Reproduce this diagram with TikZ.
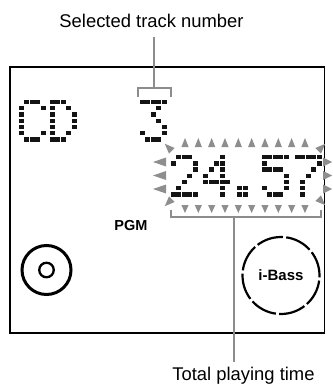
\documentclass[tikz,border=0pt]{standalone}
\usepackage{fontspec}
\setmainfont{Liberation Sans}
\definecolor{leadgray}{HTML}{8C8C8C}
\definecolor{trigray}{HTML}{8E8E8E}
\newcommand{\lcdchar}[3]{\foreach \c/\r in {#3} {\fill[lcd] ({#1+\c*5.5-0.1},{#2+\r*6.2-0.1}) rectangle ++(4.9,4.4);}}
\begin{document}
\begin{tikzpicture}[x=1pt,y=-1pt,
  lcd/.style={fill=black!92},
  tri/.style={fill=trigray},
  leader/.style={draw=leadgray,line width=2.4pt},
  label/.style={font=\fontsize{18.4}{20}\selectfont,anchor=base,inner sep=0pt},
  boldlab/.style={font=\bfseries\fontsize{14.5}{16}\selectfont,inner sep=0pt},
  frame/.style={draw=black,line width=1.2pt}]
\useasboundingbox (0,0) rectangle (332,385);
% frame
\draw[frame] (10,67) rectangle (324.5,333);
% labels
\node[label] (sel) at (151.5,28) {Selected track number};
\node[label] (tot) at (243.5,380) {Total playing time};
\node[boldlab,anchor=base] (pgm) at (131,230.5) {PGM};
% dot matrix characters
\lcdchar{19}{100}{1/0,2/0,3/0,0/1,4/1,0/2,0/3,0/4,0/5,4/5,1/6,2/6,3/6}
\lcdchar{50}{100}{0/0,1/0,2/0,0/1,3/1,0/2,4/2,0/3,4/3,0/4,4/4,0/5,3/5,0/6,1/6,2/6}
\lcdchar{140}{100}{0/0,1/0,2/0,3/0,4/0,3/1,2/2,3/3,4/4,0/5,4/5,1/6,2/6,3/6}
\lcdchar{171}{155}{1/0,2/0,3/0,0/1,4/1,4/2,3/3,2/4,1/5,0/6,1/6,2/6,3/6,4/6}
\lcdchar{203.5}{155}{3/0,2/1,3/1,1/2,3/2,0/3,3/3,0/4,1/4,2/4,3/4,4/4,3/5,3/6}
\lcdchar{237.5}{155}{0/5,1/5,0/6,1/6}
\lcdchar{262}{155}{0/0,1/0,2/0,3/0,4/0,0/1,0/2,1/2,2/2,3/2,4/3,4/4,0/5,4/5,1/6,2/6,3/6}
\lcdchar{295}{155}{0/0,1/0,2/0,3/0,4/0,4/1,3/2,2/3,1/4,1/5,1/6}
% triangles top / bottom
\foreach \i in {0,...,9} {
  \fill[tri] ({185+13.33*\i},138) -- ({188.6+13.33*\i},147) -- ({181.4+13.33*\i},147) -- cycle;
  \fill[tri] ({185+13.33*\i},213) -- ({188.6+13.33*\i},205) -- ({181.4+13.33*\i},205) -- cycle;
}
% side triangles
\foreach \y in {162,175.5,189} {
  \fill[tri] (153,\y) -- (166,{\y-4.5}) -- (166,{\y+4.5}) -- cycle;
  \fill[tri] (332,\y) -- (323,{\y-4.5}) -- (323,{\y+4.5}) -- cycle;
}
% corner triangles
\fill[tri] (164.8,143.8) -- (174.6,148) -- (169,153.6) -- cycle;
\fill[tri] (325.2,143.8) -- (321,153.6) -- (315.4,148) -- cycle;
\fill[tri] (164.8,206.2) -- (174.6,202) -- (169,196.4) -- cycle;
\fill[tri] (325.2,205.2) -- (321,195.4) -- (315.4,201) -- cycle;
% leaders
\coordinate (tl) at (154,37);
\coordinate (tb) at (154,88);
\coordinate (tbl) at (138,88);
\coordinate (tbr) at (171,88);
\draw[leader] (tl) -- (tb);
\draw[leader] ([yshift=-9pt]tbl) -- (tbl) -- (tbr) -- ([yshift=-9pt]tbr);
\coordinate (bt) at (234,362);
\coordinate (bb) at (234,217);
\coordinate (bbl) at (171,217);
\coordinate (bbr) at (321,217);
\draw[leader] (bb) -- (bt);
\draw[leader] ([yshift=7pt]bbl) -- (bbl) -- (bbr) -- ([yshift=7pt]bbr);
% disc icon
\node[circle,draw,line width=3pt,minimum size=49pt,inner sep=0pt] (disc) at (46.5,270) {};
\node[circle,draw,line width=2.3pt,minimum size=14.5pt,inner sep=0pt] (hole) at (disc) {};
% i-Bass
\node[circle,draw,line width=2.2pt,minimum size=77pt,inner sep=0pt,
  dash pattern=on 27pt off 3.25pt,dash phase=2pt,font=\bfseries\fontsize{15}{16}\selectfont] (ibass) at (281,275.5) {i-Bass};
\end{tikzpicture}
\end{document}
